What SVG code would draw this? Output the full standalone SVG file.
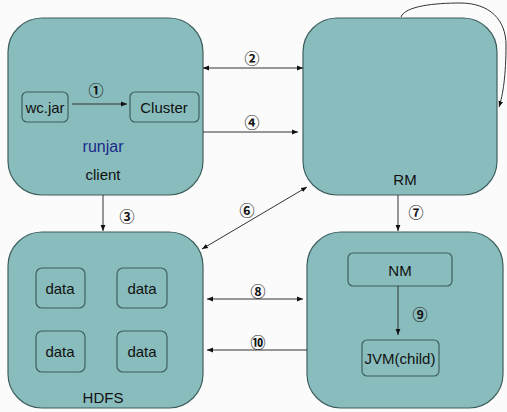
<svg xmlns="http://www.w3.org/2000/svg" width="507" height="412" viewBox="0 0 507 412">
<style>
.big{fill:#89bdbd;stroke:#3f5f5f;stroke-width:1.2}
.small{fill:#89bdbd;stroke:#3f5f5f;stroke-width:1.2}
.t{font-family:"Liberation Sans",Arial,sans-serif;font-size:15px;fill:#111;text-anchor:middle;dominant-baseline:central}
.n{font-family:"Noto Sans CJK SC","Noto Sans CJK JP",sans-serif;font-size:15px;font-weight:bold;fill:#111;text-anchor:middle;dominant-baseline:central}
.c{fill:none;stroke:#333;stroke-width:1}
</style>
<defs>
<marker id="ah" viewBox="0 0 10 10" refX="10" refY="5" markerWidth="6" markerHeight="6" orient="auto-start-reverse" markerUnits="userSpaceOnUse">
<path d="M0,1 L10,5 L0,9 z" fill="#111"/>
</marker>
</defs>
<rect width="507" height="412" fill="#fbfbfb"/>
<g id="client">
<rect class="big" x="8" y="18" width="195" height="177" rx="34"/>
<text class="t" x="103" y="146" style="fill:#1a2a8a;font-size:16px">runjar</text>
<text class="t" x="103" y="174">client</text>
</g>
<g id="wcjar">
<rect class="small" x="22" y="92" width="46" height="30" rx="5"/>
<text class="t" x="45" y="107">wc.jar</text>
</g>
<g id="cluster">
<rect class="small" x="130" y="92" width="69" height="30" rx="5"/>
<text class="t" x="164" y="107">Cluster</text>
</g>
<g id="rm">
<rect class="big" x="303" y="18" width="194" height="177" rx="34"/>
<text class="t" x="405" y="179">RM</text>
</g>
<g id="hdfs">
<rect class="big" x="8" y="232" width="195" height="176" rx="34"/>
<text class="t" x="103" y="397">HDFS</text>
</g>
<g id="data1"><rect class="small" x="36" y="268" width="49" height="40" rx="6"/><text class="t" x="60" y="288">data</text></g>
<g id="data2"><rect class="small" x="117" y="268" width="50" height="40" rx="6"/><text class="t" x="142" y="288">data</text></g>
<g id="data3"><rect class="small" x="36" y="331" width="49" height="41" rx="6"/><text class="t" x="60" y="351">data</text></g>
<g id="data4"><rect class="small" x="117" y="331" width="50" height="41" rx="6"/><text class="t" x="142" y="351">data</text></g>
<g id="node">
<rect class="big" x="307" y="232" width="196" height="176" rx="34"/>
</g>
<g id="nm"><rect class="small" x="348" y="253" width="104" height="33" rx="5"/><text class="t" x="400" y="270">NM</text></g>
<g id="jvm"><rect class="small" x="362" y="340" width="77" height="36" rx="5"/><text class="t" x="400" y="358">JVM(child)</text></g>
<g id="connectors">
<line class="c" x1="72" y1="104" x2="127" y2="104" marker-end="url(#ah)"/>
<text class="n" x="96" y="89">①</text>
<line class="c" x1="203" y1="68" x2="303" y2="68" marker-start="url(#ah)" marker-end="url(#ah)"/>
<text class="n" x="252" y="57">②</text>
<line class="c" x1="203" y1="132" x2="298" y2="132" marker-end="url(#ah)"/>
<text class="n" x="252" y="121">④</text>
<path class="c" d="M401,17 C405,6 435,3 460,3 C490,3 506,20 506,45 C506,75 503,95 499,107" marker-end="url(#ah)"/>
<line class="c" x1="103" y1="195" x2="103" y2="231" marker-end="url(#ah)"/>
<text class="n" x="127" y="215">③</text>
<line class="c" x1="307" y1="187" x2="202" y2="249" marker-start="url(#ah)" marker-end="url(#ah)"/>
<text class="n" x="247" y="209">⑥</text>
<line class="c" x1="398" y1="195" x2="398" y2="231" marker-end="url(#ah)"/>
<text class="n" x="416" y="211">⑦</text>
<line class="c" x1="207" y1="299" x2="303" y2="299" marker-start="url(#ah)" marker-end="url(#ah)"/>
<text class="n" x="258" y="290">⑧</text>
<line class="c" x1="398" y1="286" x2="398" y2="335" marker-end="url(#ah)"/>
<text class="n" x="420" y="313">⑨</text>
<line class="c" x1="307" y1="350" x2="207" y2="350" marker-end="url(#ah)"/>
<text class="n" x="258" y="341">⑩</text>
</g>
</svg>
